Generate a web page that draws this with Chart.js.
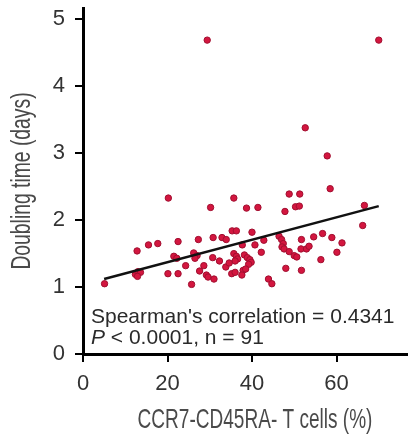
<!DOCTYPE html>
<html>
<head>
<meta charset="utf-8">
<script src="https://cdn.jsdelivr.net/npm/chart.js@4"></script>
<style>
  html, body { margin: 0; padding: 0; background: #fff; }
  #wrap { width: 408px; height: 438px; overflow: hidden; }
  canvas { display: block; }
</style>
</head>
<body>
<div id="wrap"><canvas id="chart" width="428" height="438"></canvas></div>
<script>
// CCR7-CD45RA- T cells (%) vs doubling time (days), n = 91
const ccrPct = [
  29.4, 70.0, 52.6, 57.8, 58.5, 20.2, 35.7, 48.8, 51.3, 30.2, 38.7, 41.4, 47.8, 50.3, 51.2, 66.6, 66.2,
  35.3, 36.3, 40.0, 30.8, 32.9, 33.9, 27.3, 22.5, 17.7, 15.5, 12.8, 37.7, 40.7, 42.2, 46.4, 47.0, 47.4,
  47.1, 47.6, 48.8, 50.0, 50.6, 51.7, 51.6, 52.9, 53.5, 54.6, 56.7, 58.9, 61.3, 60.1, 56.3, 51.7, 48.0,
  5.1, 12.4, 13.0, 13.6, 12.9, 20.1, 22.5, 21.5, 22.2, 24.3, 25.7, 26.2, 27.0, 26.5, 27.6, 28.6, 29.2,
  29.6, 31.0, 30.7, 32.3, 33.8, 35.7, 36.3, 36.6, 36.0, 38.2, 38.9, 39.5, 39.8, 39.2, 35.2, 36.0, 37.9,
  38.5, 37.6, 43.9, 44.7, 34.6, 42.8
]
const doublingDays = [
  4.69, 4.69, 3.38, 2.96, 2.47, 2.33, 2.33, 2.39, 2.39, 2.19, 2.18, 2.19, 2.13, 2.20, 2.21, 2.22, 1.92,
  1.84, 1.84, 1.82, 1.74, 1.74, 1.71, 1.71, 1.68, 1.65, 1.63, 1.54, 1.63, 1.63, 1.52, 1.76, 1.71, 1.65,
  1.60, 1.57, 1.53, 1.47, 1.45, 1.71, 1.57, 1.57, 1.61, 1.75, 1.80, 1.74, 1.66, 1.52, 1.41, 1.25, 1.28,
  1.05, 1.19, 1.23, 1.22, 1.16, 1.20, 1.20, 1.46, 1.43, 1.32, 1.04, 1.51, 1.47, 1.43, 1.24, 1.32, 1.18,
  1.15, 1.12, 1.44, 1.39, 1.30, 1.50, 1.46, 1.42, 1.39, 1.48, 1.44, 1.41, 1.37, 1.34, 1.20, 1.22, 1.25,
  1.27, 1.18, 1.12, 1.05, 1.36, 1.70
]

// regression line ends
const fitX = [5, 70]
const fitY = [1.12, 2.21]

const xTicks = [0, 20, 40, 60, 80]
const yTicks = [0, 1, 2, 3, 4, 5]

const xTitle = 'CCR7-CD45RA- T cells (%)'
const yTitle = 'Doubling time (days)'
const statText = "Spearman's correlation = 0.4341"
const statP = 'P'
const statRest = ' < 0.0001, n = 91'

const fontFam = '"Liberation Sans", Arial, sans-serif'

const points = ccrPct.map((x, i) => ({ x: x, y: doublingDays[i] }))
const fit = fitX.map((x, i) => ({ x: x, y: fitY[i] }))

// axis titles (condensed look) + stats text
const textPlugin = {
  id: 'textPlugin',
  afterDraw(chart) {
    const ctx = chart.ctx
    ctx.save()
    ctx.fillStyle = '#4a4a4a'
    ctx.font = '28px ' + fontFam
    ctx.textAlign = 'center'
    ctx.textBaseline = 'middle'

    ctx.save()
    ctx.translate(255, 420)
    ctx.scale(0.68, 1)
    ctx.fillText(xTitle, 0, 0)
    ctx.restore()

    ctx.save()
    ctx.translate(22, 181)
    ctx.rotate(-Math.PI / 2)
    ctx.scale(0.69, 1)
    ctx.fillText(yTitle, 0, 0)
    ctx.restore()

    ctx.fillStyle = '#2a2a2a'
    ctx.textAlign = 'left'
    ctx.textBaseline = 'alphabetic'
    ctx.font = '21px ' + fontFam
    ctx.fillText(statText, 91, 323)
    ctx.font = 'italic 21px ' + fontFam
    ctx.fillText(statP, 91, 344)
    const pw = ctx.measureText(statP).width
    ctx.font = '21px ' + fontFam
    ctx.fillText(statRest, 91 + pw, 344)
    ctx.restore()
  }
}

new Chart(document.getElementById('chart'), {
  type: 'scatter',
  data: {
    datasets: [
      {
        data: points,
        backgroundColor: '#d3163f',
        borderColor: '#a10f30',
        borderWidth: 1,
        pointRadius: 3.2,
        order: 1
      },
      {
        type: 'line',
        data: fit,
        borderColor: '#111',
        borderWidth: 2.5,
        pointRadius: 0,
        fill: false,
        order: 0
      }
    ]
  },
  options: {
    responsive: false,
    animation: false,
    layout: { padding: { top: 8, right: 7, left: 0, bottom: 0 } },
    plugins: {
      legend: { display: false },
      tooltip: { enabled: false }
    },
    scales: {
      x: {
        type: 'linear',
        min: 0,
        max: 80,
        afterFit(s) {
          s.height = 84
          s.paddingLeft = 0
          s.paddingRight = 0
        },
        afterBuildTicks(s) { s.ticks = xTicks.map(v => ({ value: v })) },
        grid: { drawOnChartArea: false, drawTicks: true, tickLength: 8, color: '#000', lineWidth: 2 },
        border: { color: '#000', width: 3 },
        ticks: { font: { family: fontFam, size: 22 }, color: '#333', padding: 9, maxRotation: 0 }
      },
      y: {
        type: 'linear',
        min: 0,
        max: 5.17,
        afterFit(s) {
          s.width = 83
          s.paddingTop = 0
          s.paddingBottom = 0
        },
        afterBuildTicks(s) { s.ticks = yTicks.map(v => ({ value: v })) },
        grid: { drawOnChartArea: false, drawTicks: true, tickLength: 8, color: '#000', lineWidth: 2 },
        border: { color: '#000', width: 3 },
        ticks: { font: { family: fontFam, size: 22 }, color: '#333', padding: 10 }
      }
    }
  },
  plugins: [textPlugin]
})
</script>
</body>
</html>
